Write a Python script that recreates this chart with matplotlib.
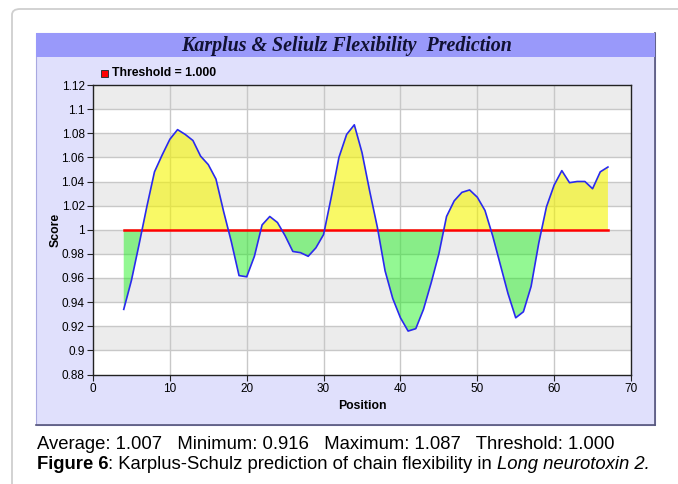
import matplotlib
matplotlib.use("Agg")
import matplotlib.pyplot as plt
from matplotlib.patches import Rectangle, FancyBboxPatch

# Karplus & Schulz flexibility scores
positions = list(range(4, 68))
scores = [
    0.934, 0.958, 0.988, 1.019, 1.048, 1.062, 1.075, 1.083, 1.079, 1.074,
    1.061, 1.054, 1.042, 1.015, 0.990, 0.962, 0.961, 0.978, 1.004, 1.011,
    1.006, 0.995, 0.982, 0.981, 0.978, 0.985, 0.996, 1.027, 1.060, 1.079,
    1.087, 1.064, 1.032, 1.002, 0.966, 0.943, 0.927, 0.916, 0.918, 0.934,
    0.956, 0.980, 1.011, 1.024, 1.031, 1.033, 1.027, 1.016, 0.995, 0.971,
    0.947, 0.927, 0.932, 0.953, 0.989, 1.019, 1.037, 1.049, 1.039, 1.040,
    1.040, 1.034, 1.048, 1.052,
]
threshold = 1.0

y_ticks = [0.88, 0.90, 0.92, 0.94, 0.96, 0.98, 1.00, 1.02, 1.04, 1.06, 1.08, 1.10, 1.12]
y_tick_labels = ['0.88', '0.9', '0.92', '0.94', '0.96', '0.98', '1',
                 '1.02', '1.04', '1.06', '1.08', '1.1', '1.12']
x_ticks = [0, 10, 20, 30, 40, 50, 60, 70]

title = 'Karplus & Seliulz Flexibility  Prediction'
legend_label = 'Threshold = 1.000'
stats_line = 'Average: 1.007   Minimum: 0.916   Maximum: 1.087   Threshold: 1.000'

W, H = 678, 484
fig = plt.figure(figsize=(W / 100, H / 100), dpi=100)
fig.patch.set_facecolor('white')
sans = 'Liberation Sans'


def frac(x0, y0, x1, y1):
    """pixel box (top-left origin) -> figure fraction [l, b, w, h]"""
    return [x0 / W, 1 - y1 / H, (x1 - x0) / W, (y1 - y0) / H]


# outer rounded frame of the page
fig.patches.append(FancyBboxPatch((12 / W, -0.2), 1.2, 1.2 - 9 / H,
                                  boxstyle='round,pad=0,rounding_size=0.012',
                                  transform=fig.transFigure, fill=False,
                                  ec='#cfcfcf', lw=1.3, zorder=-3))

# chart panel + title bar
l, b, w, h = frac(36, 33, 655, 425)
fig.patches.append(Rectangle((l, b), w, h, transform=fig.transFigure,
                             fc='#e0e0fc', ec='#a8a8e0', lw=0.8, zorder=-2))
fig.add_artist(plt.Line2D([655 / W, 655 / W], [1 - 33 / H, 1 - 425 / H],
                          transform=fig.transFigure, color='#55557a', lw=1.2,
                          zorder=-1))
fig.add_artist(plt.Line2D([36 / W, 655 / W], [1 - 425 / H, 1 - 425 / H],
                          transform=fig.transFigure, color='#55557a', lw=1.2,
                          zorder=-1))
l, b, w, h = frac(36, 33, 655, 57)
fig.patches.append(Rectangle((l, b), w, h, transform=fig.transFigure,
                             fc='#9999fa', ec='none', zorder=-1))
fig.text(347 / W, 1 - 46 / H, title, ha='center', va='center',
         family='Liberation Serif', weight='bold', style='italic',
         fontsize=14.4, color='#111133')

# legend
l, b, w, h = frac(101, 70, 108, 77)
fig.patches.append(Rectangle((l, b), w, h, transform=fig.transFigure,
                             fc='#ff0000', ec='#333333', lw=0.7))
fig.text(112 / W, 1 - 73.5 / H, legend_label, ha='left', va='center',
         family=sans, weight='bold', fontsize=8.8)

# plot area
ax = fig.add_axes(frac(93, 85, 631, 374.5))
ax.set_zorder(2)
ax.set_xlim(0, 70)
ax.set_ylim(0.88, 1.12)
ax.set_facecolor('white')
for i in range(len(y_ticks) - 1):
    if i % 2 == 1:
        ax.axhspan(y_ticks[i], y_ticks[i + 1], color='#ececec', lw=0, zorder=0)
for yv in y_ticks[1:-1]:
    ax.axhline(yv, color='#c8c8c8', lw=1, zorder=1)
for xv in x_ticks[1:-1]:
    ax.axvline(xv, color='#c8c8c8', lw=1, zorder=1)

ax.fill_between(positions, scores, threshold,
                where=[s >= threshold for s in scores], interpolate=True,
                color='#f5f500', alpha=0.6, lw=0, zorder=2)
ax.fill_between(positions, scores, threshold,
                where=[s < threshold for s in scores], interpolate=True,
                color='#10f010', alpha=0.45, lw=0, zorder=2)
ax.plot([positions[0], positions[-1]], [threshold, threshold],
        color='#ff0000', lw=1.8, zorder=3)
ax.plot(positions, scores, color='#2a2aee', lw=1.2, zorder=4)

ax.set_xticks(x_ticks)
ax.set_xticklabels([str(v) for v in x_ticks])
ax.set_yticks(y_ticks)
ax.set_yticklabels(y_tick_labels)
ax.tick_params(direction='out', length=4, width=0.8, color='#222222',
               labelsize=8.5, pad=2)
for lab in ax.get_xticklabels() + ax.get_yticklabels():
    lab.set_family(sans)
for sp in ax.spines.values():
    sp.set_color('#222222')
    sp.set_linewidth(1)

ax.set_xlabel('Position', family=sans, weight='bold', fontsize=8.8, labelpad=4)
ax.set_ylabel('Score', family=sans, weight='bold', fontsize=8.8, labelpad=0)

# caption below the chart
fig.text(37 / W, 1 - 449 / H, stats_line, ha='left', va='baseline',
         family=sans, fontsize=13.3)
renderer = fig.canvas.get_renderer()
x = 37 / W
for piece, kw in [('Figure 6', dict(weight='bold')),
                  (': Karplus-Schulz prediction of chain flexibility in ', {}),
                  ('Long neurotoxin 2.', dict(style='italic'))]:
    t = fig.text(x, 1 - 469 / H, piece, ha='left', va='baseline',
                 family=sans, fontsize=13.3, **kw)
    bb = t.get_window_extent(renderer)
    x += bb.width / W

fig.savefig('out.png', dpi=100)
